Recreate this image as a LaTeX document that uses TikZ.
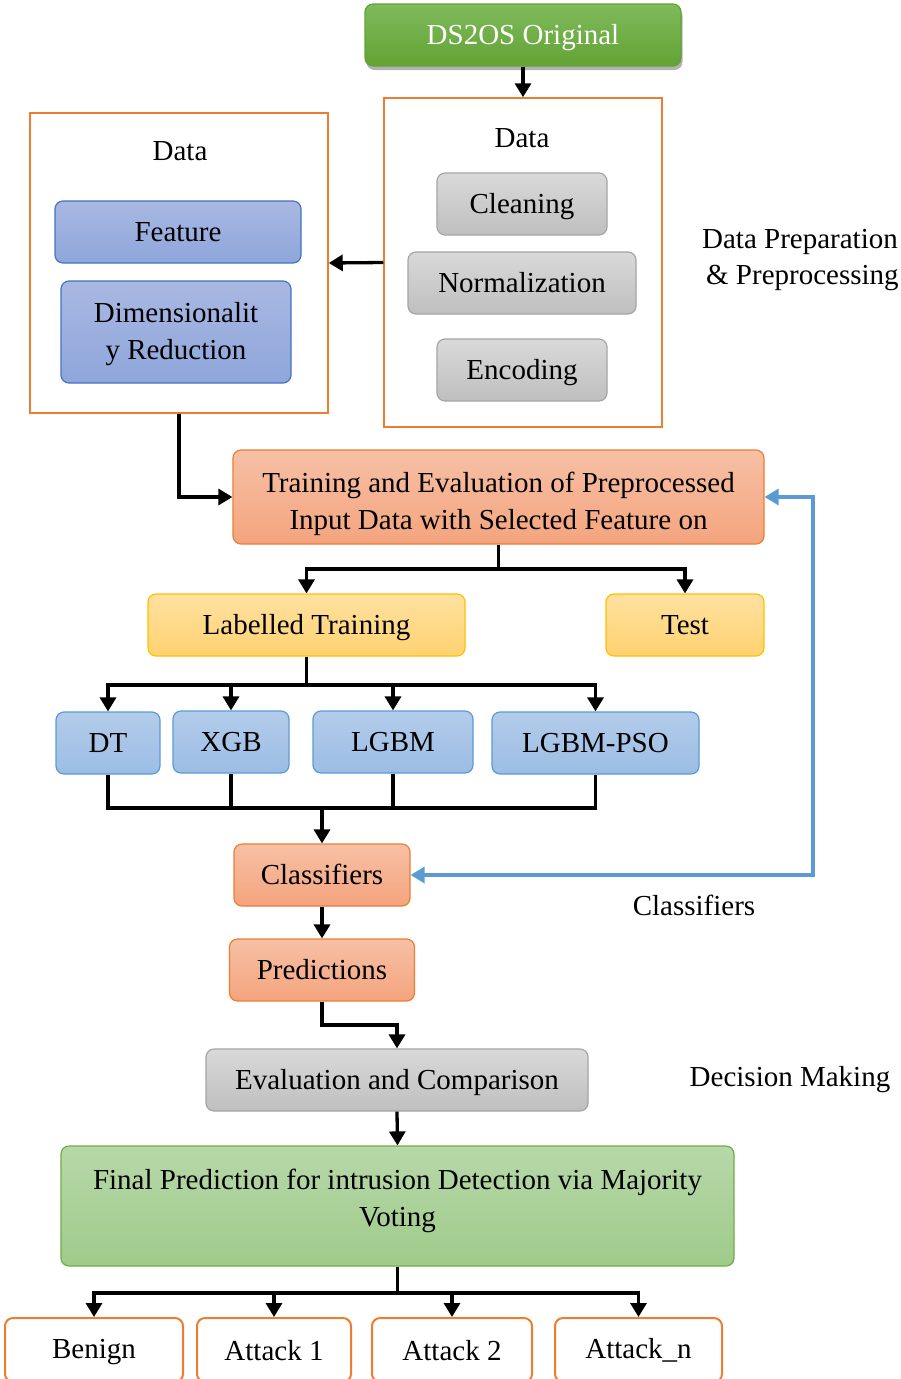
\documentclass[tikz,border=0pt]{standalone}
\usepackage{fontspec}
\setmainfont{Liberation Serif}
\usetikzlibrary{arrows.meta,shadows}
\newcommand\myfs{\fontsize{29}{36.5}\selectfont}
\definecolor{orgB}{HTML}{ED7D31}
\definecolor{grnT}{RGB}{128,186,92}
\definecolor{grnB}{RGB}{98,163,52}
\definecolor{gryT}{HTML}{D9D9D9}
\definecolor{gryB}{HTML}{BFBFBF}
\definecolor{gryD}{HTML}{A5A5A5}
\definecolor{bluT}{HTML}{A9B8E2}
\definecolor{bluB}{HTML}{8EA6DB}
\definecolor{bluD}{HTML}{4472C4}
\definecolor{salT}{HTML}{F7C0A5}
\definecolor{salB}{HTML}{F4A47E}
\definecolor{yelT}{HTML}{FFE1A1}
\definecolor{yelB}{HTML}{FFD270}
\definecolor{yelD}{HTML}{FFC000}
\definecolor{lbT}{HTML}{B3CCEA}
\definecolor{lbB}{HTML}{9CBDE4}
\definecolor{lbD}{HTML}{5B9BD5}
\definecolor{lgT}{HTML}{B7D8A9}
\definecolor{lgB}{HTML}{9FCB8A}
\definecolor{lgD}{HTML}{70AD47}
\tikzset{
  one/.style={text height=22pt, text depth=2.5pt},
  box/.style={rounded corners=8pt, line width=1.2pt, inner sep=0pt, align=center, font=\myfs},
  greenbox/.style={box, one, draw=grnB, top color=grnT, bottom color=grnB, text=white},
  graybox/.style={box, one, draw=gryD, top color=gryT, bottom color=gryB},
  bluebox/.style={box, draw=bluD, top color=bluT, bottom color=bluB},
  salbox/.style={box, draw=orgB, top color=salT, bottom color=salB},
  yelbox/.style={box, one, draw=yelD, top color=yelT, bottom color=yelB},
  lbbox/.style={box, one, draw=lbD, top color=lbT, bottom color=lbB},
  lgbox/.style={box, draw=lgD, top color=lgT, bottom color=lgB},
  outbox/.style={box, draw=orgB, line width=2pt, fill=white},
  container/.style={draw=orgB, line width=1.5pt, inner sep=0pt},
  txtm/.style={font=\myfs, align=center, inner sep=0pt},
  txt/.style={txtm, one},
  line/.style={line width=3.3pt, draw=black},
  tip/.tip={Triangle[length=14pt,width=16pt]},
  arr/.style={line, -tip},
  barr/.style={line width=3.3pt, draw=lbD, tip-tip},
}
\begin{document}
\begin{tikzpicture}[x=1pt,y=-1pt]
\useasboundingbox (0,0) rectangle (901,1379);
\clip (0,0) rectangle (901,1379);
% top
\node[greenbox, minimum width=316pt, minimum height=62pt,
  drop shadow={shadow xshift=1.5pt, shadow yshift=-4pt, opacity=0.3, fill=black}] (ds) at (523,35) {DS2OS Original};
% containers
\node[container, minimum width=278pt, minimum height=329pt] (dprep) at (523,262.5) {};
\node[txt] (dprept) at (522,138) {Data};
\node[graybox, minimum width=170pt, minimum height=62pt] (clean) at (522,204) {Cleaning};
\node[graybox, minimum width=228pt, minimum height=62pt] (norm) at (522,283) {Normalization};
\node[graybox, minimum width=170pt, minimum height=62pt] (enc) at (522,370) {Encoding};

\node[container, minimum width=298pt, minimum height=300pt] (dfeat) at (179,263) {};
\node[txt] (dfeatt) at (180,151) {Data};
\node[bluebox, one, minimum width=246pt, minimum height=62pt] (feat) at (178,232) {Feature};
\node[bluebox, minimum width=230pt, minimum height=102pt] (dim) at (176,332) {};
\node[txtm] (dimt) at (176,334) {Dimensionalit\\y Reduction};

\node[txtm] (dpl) at (800,260) {Data Preparation\\\,\& Preprocessing};

% training
\node[salbox, minimum width=531pt, minimum height=94pt] (train) at (498.5,497) {};
\node[txtm] (traint) at ([yshift=-7pt]train.center) {Training and Evaluation of Preprocessed\\Input Data with Selected Feature on};

\node[yelbox, minimum width=317pt, minimum height=62pt] (lab) at (306.5,625) {Labelled Training};
\node[yelbox, minimum width=158pt, minimum height=62pt] (test) at (685,625) {Test};

\node[lbbox, minimum width=104pt, minimum height=62pt] (dt) at (108,743) {DT};
\node[lbbox, minimum width=116pt, minimum height=62pt] (xgb) at (231,742) {XGB};
\node[lbbox, minimum width=160pt, minimum height=62pt] (lgbm) at (393,742) {LGBM};
\node[lbbox, minimum width=207pt, minimum height=62pt] (pso) at (595.5,743) {LGBM-PSO};

\node[salbox, one, minimum width=176pt, minimum height=62pt] (cls) at (322,875) {Classifiers};
\node[txt] (clsl) at (694,906) {Classifiers};
\node[salbox, one, minimum width=185pt, minimum height=62pt] (pred) at (322,970) {Predictions};

\node[graybox, minimum width=382pt, minimum height=62pt] (eval) at (397,1080) {Evaluation and Comparison};
\node[txt] (dm) at (790,1077) {Decision Making};

\node[lgbox, minimum width=673pt, minimum height=120pt] (final) at (397.5,1206) {};
\node[txtm] (finalt) at ([yshift=5pt]final.center) {Final Prediction for intrusion Detection via Majority\\Voting};

\node[outbox, minimum width=178pt, minimum height=64pt] (ben) at (94,1350) {};
\node[txt] (bent) at (94,1349) {Benign};
\node[outbox, minimum width=154pt, minimum height=64pt] (a1) at (274,1350) {};
\node[txt] (a1t) at (274,1351) {Attack 1};
\node[outbox, minimum width=160pt, minimum height=64pt] (a2) at (452,1350) {};
\node[txt] (a2t) at (452,1351) {Attack 2};
\node[outbox, minimum width=167pt, minimum height=64pt] (an) at (638.5,1350) {};
\node[txt] (ant) at (638.5,1349) {Attack\_n};

% connectors
\draw[arr] (ds.south) -- (dprep.north);
\draw[arr] (dprep.west) -- (dfeat.east);
\draw[arr] (dfeat.south) |- (train.west);

\coordinate (j1) at (498.5,569);
\draw[line] (train.south) -- (j1);
\draw[arr] (j1) -| (lab.north);
\draw[arr] (j1) -| (test.north);

\coordinate (j2) at (306.5,685);
\draw[line] (lab.south) -- (j2);
\draw[arr] (j2) -| (dt.north);
\draw[arr] (j2) -| (xgb.north);
\draw[arr] (j2) -| (lgbm.north);
\draw[arr] (j2) -| (pso.north);

\coordinate (j3) at (322,808);
\draw[line] (dt.south) |- (j3);
\draw[line] (xgb.south) |- (j3);
\draw[line] (lgbm.south) |- (j3);
\draw[line] (pso.south) |- (j3);
\draw[arr] (j3) -- (cls.north);

\coordinate (fb) at (813,875);
\draw[barr] (cls.east) -- (fb) |- (train.east);

\draw[arr] (cls.south) -- (pred.north);
\coordinate (j4) at (322,1025);
\draw[arr] (pred.south) -- (j4) -| (eval.north);
\draw[arr] (eval.south) -- (final.north);

\coordinate (j5) at (397.5,1293);
\draw[line] (final.south) -- (j5);
\draw[arr] (j5) -| (ben.north);
\draw[arr] (j5) -| (a1.north);
\draw[arr] (j5) -| (a2.north);
\draw[arr] (j5) -| (an.north);
\end{tikzpicture}
\end{document}
